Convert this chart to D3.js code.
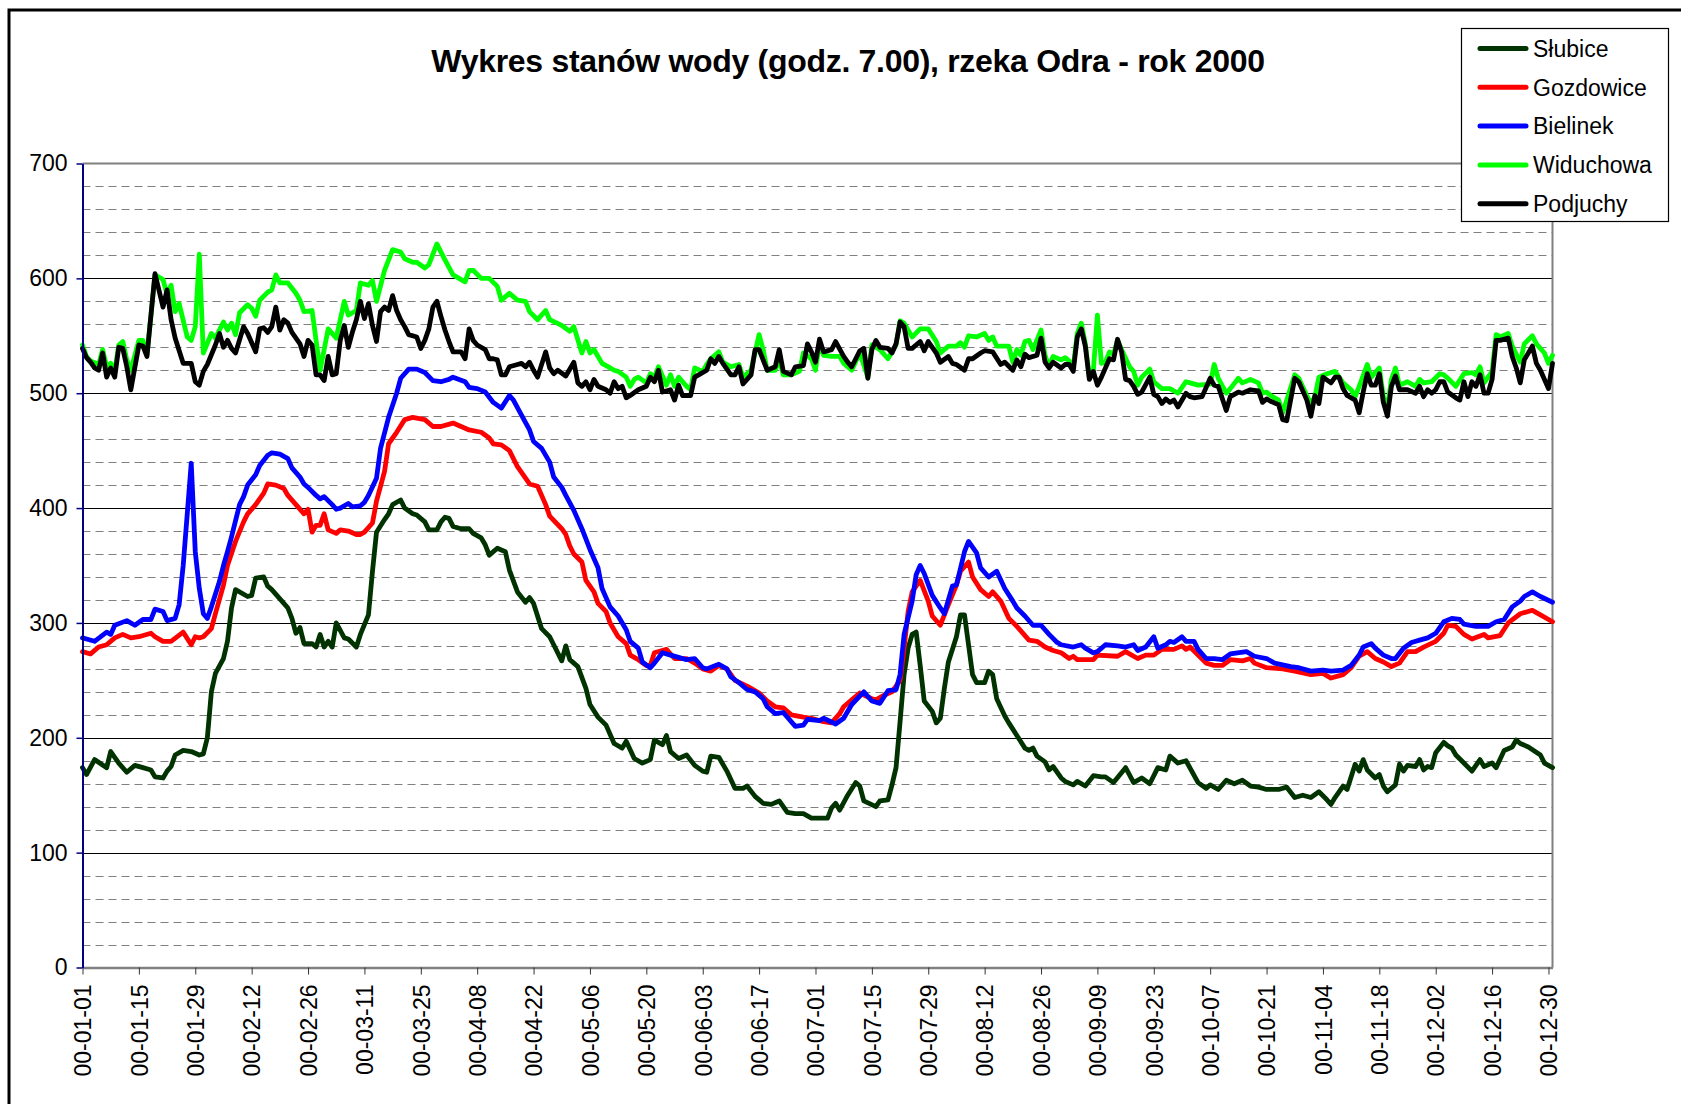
<!DOCTYPE html>
<html lang="pl">
<head>
<meta charset="UTF-8"/>
<title>Wykres stanów wody - Odra 2000</title>
<script src="https://d3js.org/d3.v7.min.js"></script>
<style>
    body { margin: 0; background: #fff; }
    svg { display: block; font-family: "Liberation Sans", Arial, sans-serif; }
</style>
</head>
<body>
<script>
    // Series: [day of year (0 = 00-01-01), water level in cm]
    var slubice = [[0,174],[1,168],[3,181],[6,174],[7,188],[9,178],[11,170],[13,176],[15,174],[17,172],[18,166],[20,165],[21,171],[22,175],[23,185],[25,189],[27,188],[29,185],[30,186],[31,200],[32,240],[33,256],[35,269],[36,284],[37,313],[38,329],[41,323],[42,324],[43,339],[45,340],[46,332],[47,329],[50,317],[51,313],[52,304],[53,291],[54,296],[55,282],[57,282],[58,279],[59,290],[60,279],[61,284],[62,279],[63,300],[65,287],[66,286],[68,279],[69,290],[71,307],[72,345],[73,379],[75,390],[76,395],[77,403],[79,407],[80,400],[82,395],[83,394],[85,388],[86,381],[88,381],[89,388],[90,392],[91,391],[92,384],[94,382],[96,382],[97,378],[99,374],[100,368],[101,359],[103,365],[105,362],[106,346],[108,327],[110,318],[111,322],[112,317],[114,295],[116,288],[117,281],[119,267],[120,280],[121,268],[123,262],[125,243],[126,229],[128,218],[130,211],[132,195],[134,191],[135,197],[137,182],[139,178],[141,181],[142,198],[144,194],[145,202],[146,188],[148,182],[150,185],[152,176],[154,171],[155,170],[156,184],[158,183],[160,171],[162,156],[164,156],[165,158],[167,149],[169,143],[171,142],[173,145],[175,135],[177,134],[179,134],[181,130],[185,130],[186,139],[187,143],[188,137],[190,150],[192,161],[193,158],[194,145],[197,140],[198,145],[200,146],[201,159],[202,174],[203,214],[204,255],[205,278],[206,290],[207,292],[208,263],[209,232],[211,223],[212,213],[213,217],[214,243],[215,266],[217,288],[218,307],[219,307],[220,281],[221,255],[222,248],[224,248],[225,258],[226,255],[227,234],[229,219],[230,213],[232,202],[234,191],[235,189],[236,191],[237,184],[239,179],[240,172],[241,175],[243,165],[244,162],[246,159],[247,162],[249,158],[251,167],[253,166],[254,166],[256,161],[259,174],[261,161],[263,165],[265,160],[267,174],[269,172],[270,184],[272,178],[274,180],[277,161],[279,156],[280,159],[282,155],[284,163],[286,160],[288,163],[290,158],[292,157],[294,155],[297,155],[299,157],[301,148],[303,150],[305,148],[307,153],[309,146],[310,142],[311,148],[313,158],[314,155],[316,177],[317,171],[318,181],[319,172],[321,165],[322,168],[323,158],[324,153],[326,159],[327,177],[328,171],[329,176],[331,175],[332,181],[333,172],[334,175],[335,174],[336,187],[338,196],[339,193],[340,191],[341,185],[343,178],[345,171],[347,181],[348,175],[350,178],[351,174],[353,189],[355,192],[356,198],[357,195],[359,192],[362,185],[363,178],[365,174]];

    var gozdowice = [[0,275],[2,273],[4,279],[6,281],[8,287],[10,290],[12,287],[14,288],[17,291],[18,288],[20,284],[22,284],[25,292],[27,281],[28,288],[29,287],[30,288],[32,295],[33,308],[35,333],[36,350],[38,371],[40,388],[41,395],[43,403],[45,413],[46,421],[48,420],[50,417],[51,411],[53,403],[55,395],[56,399],[57,379],[58,385],[59,385],[60,395],[61,381],[63,378],[64,381],[66,380],[68,377],[69,377],[70,379],[72,387],[73,406],[75,432],[76,456],[78,466],[80,477],[82,479],[85,477],[87,471],[89,471],[92,474],[94,471],[96,468],[99,466],[101,461],[102,456],[104,455],[106,450],[108,436],[110,426],[111,421],[113,419],[115,403],[116,393],[119,382],[120,377],[121,367],[122,360],[124,353],[125,337],[127,327],[128,317],[130,310],[131,300],[133,288],[135,282],[136,272],[138,268],[140,263],[141,263],[142,274],[145,277],[147,269],[150,269],[152,265],[154,260],[156,258],[158,263],[160,260],[162,250],[165,245],[166,243],[168,239],[170,232],[172,227],[174,226],[176,220],[179,218],[181,217],[184,214],[186,213],[188,221],[189,227],[191,233],[193,239],[196,234],[197,233],[199,237],[201,240],[203,250],[204,278],[205,310],[206,327],[208,337],[210,319],[211,306],[213,298],[215,316],[217,333],[218,345],[220,353],[221,340],[223,329],[225,323],[226,327],[228,319],[230,304],[232,297],[235,285],[237,284],[239,279],[241,276],[243,274],[245,269],[246,271],[247,268],[251,268],[252,272],[257,271],[259,275],[262,269],[264,272],[266,272],[268,277],[271,277],[273,280],[274,277],[275,279],[277,272],[279,265],[281,263],[283,263],[285,268],[288,267],[290,269],[291,265],[294,261],[298,260],[301,258],[305,255],[308,256],[310,252],[313,255],[315,261],[317,271],[319,275],[321,269],[323,266],[325,262],[327,265],[329,275],[331,275],[333,279],[336,284],[338,291],[339,298],[341,297],[343,290],[345,286],[348,290],[349,287],[352,289],[354,300],[357,308],[360,311],[362,307],[365,301]];

    var bielinek = [[0,287],[1,286],[3,284],[6,292],[7,290],[8,298],[11,302],[13,298],[15,303],[17,303],[18,312],[20,310],[21,302],[23,304],[24,316],[25,350],[27,439],[28,362],[29,330],[30,308],[31,304],[32,314],[34,336],[35,350],[36,362],[37,375],[39,403],[40,410],[41,420],[43,429],[44,437],[46,446],[47,448],[49,447],[51,443],[52,435],[54,427],[55,421],[56,418],[58,411],[59,408],[60,410],[62,403],[63,399],[64,400],[66,404],[67,401],[69,402],[70,405],[71,411],[73,426],[74,452],[76,479],[78,500],[79,513],[81,521],[83,521],[85,518],[87,511],[89,510],[91,512],[92,514],[95,510],[96,505],[98,504],[100,501],[102,492],[104,487],[106,498],[107,494],[109,481],[111,468],[112,458],[114,452],[116,440],[117,427],[119,418],[120,411],[122,398],[124,382],[126,364],[128,348],[129,330],[131,314],[133,306],[135,294],[136,284],[138,278],[139,266],[141,261],[142,265],[144,274],[146,272],[148,270],[150,268],[152,269],[154,261],[155,260],[158,264],[160,260],[161,253],[163,248],[165,242],[167,240],[169,234],[170,227],[172,221],[174,222],[177,210],[179,211],[180,216],[183,215],[184,217],[187,212],[189,217],[191,229],[194,240],[196,232],[198,230],[200,241],[202,242],[203,255],[204,290],[206,319],[207,342],[208,350],[209,343],[211,324],[213,313],[214,308],[216,332],[217,333],[219,362],[220,371],[222,361],[223,348],[225,340],[227,345],[229,330],[231,319],[232,313],[234,306],[236,298],[238,298],[240,290],[242,283],[243,281],[246,279],[248,281],[249,278],[251,274],[252,275],[254,281],[257,280],[259,279],[261,281],[262,276],[264,279],[266,288],[267,278],[269,281],[270,284],[271,283],[273,288],[274,284],[276,284],[277,277],[279,269],[281,269],[283,268],[285,273],[289,275],[291,271],[294,269],[296,265],[300,262],[302,261],[305,258],[308,259],[310,258],[313,259],[315,263],[317,272],[318,279],[320,282],[321,278],[323,272],[325,269],[326,269],[328,278],[330,283],[332,285],[334,287],[336,291],[338,301],[340,304],[342,303],[343,299],[346,297],[349,297],[351,301],[353,303],[355,314],[357,319],[358,323],[360,327],[362,323],[365,318]];

    var widuchowa = [[0,542],[1,532],[2,528],[4,525],[5,538],[6,523],[7,526],[8,519],[9,542],[10,545],[11,529],[12,520],[14,546],[15,546],[16,533],[18,603],[20,599],[21,586],[22,594],[23,571],[24,578],[26,549],[27,546],[28,558],[29,621],[30,535],[32,552],[33,548],[35,562],[36,555],[37,561],[38,551],[39,570],[41,577],[42,574],[43,567],[44,581],[46,588],[47,590],[48,603],[49,596],[51,596],[53,587],[54,581],[55,571],[57,572],[59,520],[61,556],[63,548],[65,580],[66,568],[68,572],[69,596],[71,594],[72,598],[73,580],[75,607],[77,625],[79,623],[80,617],[82,614],[83,614],[85,609],[86,612],[88,630],[90,616],[92,603],[95,597],[96,607],[97,607],[99,600],[101,600],[103,593],[104,581],[106,587],[108,581],[110,580],[111,571],[113,564],[115,572],[116,564],[119,559],[121,554],[122,558],[124,535],[125,545],[126,535],[127,538],[129,526],[131,522],[132,520],[133,519],[135,514],[136,506],[137,512],[138,514],[140,509],[141,517],[142,514],[143,523],[145,507],[146,516],[147,506],[148,514],[150,506],[151,503],[152,522],[154,519],[155,525],[156,530],[158,536],[159,527],[161,523],[163,525],[164,514],[166,520],[168,551],[169,538],[170,520],[172,520],[173,530],[174,516],[176,516],[178,519],[179,535],[181,530],[182,520],[183,544],[184,533],[186,532],[188,532],[189,526],[191,520],[193,535],[195,514],[196,542],[198,538],[200,530],[202,542],[203,563],[204,561],[206,549],[208,556],[210,556],[212,545],[213,535],[215,541],[217,541],[218,544],[219,540],[220,550],[222,549],[224,552],[225,546],[226,549],[227,541],[230,541],[231,527],[232,538],[233,533],[234,545],[235,546],[236,538],[238,555],[239,533],[240,523],[241,532],[243,529],[244,531],[245,528],[246,523],[247,552],[248,561],[249,543],[250,514],[251,520],[252,568],[253,526],[254,527],[255,536],[256,534],[257,546],[258,538],[260,523],[261,519],[262,507],[263,514],[265,521],[266,510],[268,504],[270,504],[272,500],[274,510],[275,509],[277,507],[280,508],[281,525],[282,513],[284,500],[285,504],[287,513],[288,509],[290,512],[292,509],[293,500],[294,501],[295,498],[297,494],[298,483],[299,494],[301,516],[302,513],[304,498],[305,491],[306,497],[307,514],[309,517],[311,519],[313,509],[315,503],[316,497],[317,506],[319,525],[320,514],[322,522],[323,497],[324,487],[325,512],[326,522],[327,507],[329,510],[331,506],[332,512],[333,509],[335,510],[337,517],[338,516],[339,513],[341,506],[343,517],[345,518],[346,516],[347,523],[348,509],[350,519],[351,551],[352,549],[354,552],[355,541],[357,527],[358,543],[360,550],[361,543],[363,535],[364,526],[365,533]];

    var podjuchy = [[0,539],[1,531],[2,527],[3,522],[4,520],[5,535],[6,514],[7,522],[8,514],[9,540],[10,539],[11,523],[12,503],[14,542],[15,541],[16,532],[18,604],[20,575],[21,590],[22,564],[23,548],[25,526],[27,526],[28,510],[29,507],[30,519],[31,525],[33,542],[34,552],[35,540],[36,546],[37,539],[38,535],[40,558],[41,552],[43,536],[44,556],[45,557],[46,553],[47,558],[48,575],[49,555],[50,564],[51,561],[52,553],[54,543],[55,532],[56,546],[57,542],[58,516],[59,516],[60,511],[61,532],[62,516],[63,517],[64,546],[65,559],[66,540],[67,553],[68,564],[69,580],[70,565],[71,578],[72,559],[73,545],[74,571],[75,575],[76,572],[77,585],[78,572],[79,564],[80,558],[81,551],[83,549],[84,539],[85,546],[86,556],[87,575],[88,580],[89,567],[90,555],[91,545],[92,536],[94,536],[95,530],[96,556],[97,546],[98,542],[100,538],[101,530],[102,530],[103,529],[104,516],[105,516],[106,523],[108,525],[109,526],[110,523],[111,527],[112,520],[113,514],[115,536],[116,522],[117,517],[118,520],[120,515],[122,527],[123,509],[124,506],[125,510],[126,503],[127,512],[128,506],[130,503],[131,500],[132,510],[133,504],[134,506],[135,496],[136,498],[138,503],[140,506],[141,514],[142,510],[143,520],[144,501],[146,503],[147,494],[148,507],[149,498],[151,498],[152,514],[153,516],[155,520],[156,530],[157,526],[158,532],[159,526],[161,516],[162,516],[163,523],[164,508],[166,516],[167,538],[168,538],[170,520],[172,523],[173,538],[174,519],[176,516],[177,523],[179,524],[180,543],[181,536],[182,527],[183,547],[184,536],[186,538],[187,545],[189,532],[190,527],[191,523],[193,537],[194,539],[195,513],[196,538],[197,546],[198,540],[200,539],[201,535],[202,543],[203,562],[204,558],[205,539],[206,539],[208,545],[209,537],[210,545],[212,535],[213,527],[215,532],[216,526],[217,525],[219,520],[220,530],[221,530],[223,535],[224,537],[226,536],[228,525],[229,527],[231,520],[232,529],[233,523],[234,534],[235,531],[237,533],[238,548],[239,527],[240,522],[241,527],[243,522],[244,525],[245,525],[246,519],[247,549],[248,556],[249,541],[250,512],[251,519],[252,507],[253,514],[255,530],[256,529],[257,547],[258,536],[259,512],[260,511],[261,506],[262,499],[263,501],[265,514],[266,499],[267,497],[268,491],[269,495],[270,492],[271,494],[272,488],[274,500],[275,497],[276,496],[278,497],[280,513],[281,507],[282,506],[284,485],[285,497],[287,501],[288,500],[290,503],[292,502],[293,492],[294,495],[295,493],[297,490],[298,477],[299,476],[301,513],[302,510],[304,494],[305,480],[306,498],[307,491],[308,514],[310,509],[311,514],[312,514],[313,504],[314,498],[316,494],[317,483],[318,501],[319,517],[320,507],[321,507],[322,517],[323,492],[324,480],[325,506],[326,515],[327,503],[329,503],[331,500],[332,506],[333,497],[334,503],[335,500],[336,503],[337,510],[338,510],[339,501],[341,496],[342,494],[343,510],[344,497],[345,510],[346,506],[347,516],[348,500],[349,500],[350,512],[351,546],[352,546],[354,548],[355,532],[356,522],[357,509],[358,529],[360,541],[361,526],[362,520],[364,504],[365,526]];

    var seriesNames = ["Słubice", "Gozdowice", "Bielinek", "Widuchowa", "Podjuchy"];
    var seriesColors = ["#003300", "#ff0000", "#0000ff", "#00ff00", "#000000"];
    var seriesData = [slubice, gozdowice, bielinek, widuchowa, podjuchy];

    var tickLabels = ["00-01-01", "00-01-15", "00-01-29", "00-02-12", "00-02-26", "00-03-11",
                      "00-03-25", "00-04-08", "00-04-22", "00-05-06", "00-05-20", "00-06-03",
                      "00-06-17", "00-07-01", "00-07-15", "00-07-29", "00-08-12", "00-08-26",
                      "00-09-09", "00-09-23", "00-10-07", "00-10-21", "00-11-04", "00-11-18",
                      "00-12-02", "00-12-16", "00-12-30"];
    var yTicks = [0, 100, 200, 300, 400, 500, 600, 700];

    var title = "Wykres stanów wody (godz. 7.00), rzeka Odra - rok 2000";

    // Canvas and plot area
    var W = 1681, H = 1104;
    var plot = { left: 82.5, right: 1552.5, top: 163.5, bottom: 967.5 };

    var parseDay = d3.timeParse("%y-%m-%d");
    var start = new Date(2000, 0, 1);
    var end = new Date(2000, 11, 31);
    function dayDate(d) { return d3.timeDay.offset(start, d); }

    var xScale = d3.scaleTime()
                   .domain([start, end])
                   .range([plot.left, plot.right]);

    var yScale = d3.scaleLinear()
                   .domain([0, 700])
                   .range([plot.bottom, plot.top]);

    var svg = d3.select("body")
                .append("svg")
                .attr("width", W)
                .attr("height", H);

    svg.append("rect")
       .attr("width", W).attr("height", H)
       .attr("fill", "#fff");

    // Outer chart frame (runs off the picture right and bottom)
    svg.append("rect")
       .attr("x", 9).attr("y", 10)
       .attr("width", W + 20).attr("height", H + 20)
       .attr("fill", "none")
       .attr("stroke", "#000")
       .attr("stroke-width", 3);

    // Title
    svg.append("text")
       .attr("x", 848)
       .attr("y", 72)
       .attr("text-anchor", "middle")
       .attr("font-size", 32)
       .attr("font-weight", "bold")
       .attr("letter-spacing", -0.3)
       .text(title);

    // Minor dashed gridlines every 20
    var minor = d3.range(20, 700, 20).filter(function(v) { return v % 100 !== 0; });
    svg.append("g")
       .selectAll("line")
       .data(minor)
       .enter()
       .append("line")
       .attr("x1", plot.left).attr("x2", plot.right)
       .attr("y1", function(d) { return Math.round(yScale(d)) + 0.5; })
       .attr("y2", function(d) { return Math.round(yScale(d)) + 0.5; })
       .attr("stroke", "#808080")
       .attr("stroke-width", 1)
       .attr("stroke-dasharray", "8,5");

    // Major gridlines every 100
    svg.append("g")
       .selectAll("line")
       .data(yTicks.filter(function(v) { return v > 0 && v < 700; }))
       .enter()
       .append("line")
       .attr("x1", plot.left).attr("x2", plot.right)
       .attr("y1", function(d) { return Math.round(yScale(d)) + 0.5; })
       .attr("y2", function(d) { return Math.round(yScale(d)) + 0.5; })
       .attr("stroke", "#000")
       .attr("stroke-width", 1);

    // Plot area border (top and right)
    svg.append("path")
       .attr("d", "M" + plot.left + "," + plot.top + "H" + plot.right + "V" + plot.bottom)
       .attr("fill", "none")
       .attr("stroke", "#808080")
       .attr("stroke-width", 2);

    // Series lines
    var line = d3.line()
                 .x(function(d) { return xScale(dayDate(d[0])); })
                 .y(function(d) { return yScale(d[1]); });

    svg.append("g")
       .selectAll("path")
       .data(seriesData)
       .enter()
       .append("path")
       .attr("d", line)
       .attr("fill", "none")
       .attr("stroke", function(d, i) { return seriesColors[i]; })
       .attr("stroke-width", 4.8)
       .attr("stroke-linejoin", "round")
       .attr("stroke-linecap", "round");

    // X axis
    var xAxis = d3.axisBottom(xScale)
                  .tickValues(tickLabels.map(parseDay))
                  .tickFormat(d3.timeFormat("%y-%m-%d"))
                  .tickSize(7)
                  .tickSizeOuter(0);

    var gx = svg.append("g")
                .attr("class", "x-axis")
                .attr("transform", "translate(0," + plot.bottom + ")")
                .call(xAxis);
    gx.select(".domain").attr("stroke", "#808080").attr("stroke-width", 2.5);
    gx.selectAll(".tick line").attr("stroke", "#333").attr("stroke-width", 1);
    gx.selectAll(".tick text")
      .attr("font-size", 23)
      .attr("font-family", "Liberation Sans, Arial, sans-serif")
      .attr("fill", "#000")
      .attr("text-anchor", "end")
      .attr("transform", "rotate(-90)")
      .attr("x", -17)
      .attr("y", 0)
      .attr("dy", "0.36em");

    // Y axis
    var yAxis = d3.axisLeft(yScale)
                  .tickValues(yTicks)
                  .tickSize(6)
                  .tickPadding(9)
                  .tickSizeOuter(0);

    var gy = svg.append("g")
                .attr("class", "y-axis")
                .attr("transform", "translate(" + plot.left + ",0)")
                .call(yAxis);
    gy.select(".domain").attr("stroke", "#000080").attr("stroke-width", 2);
    gy.selectAll(".tick line").attr("stroke", "#000080").attr("stroke-width", 1.5);
    gy.selectAll(".tick text")
      .attr("font-size", 23)
      .attr("font-family", "Liberation Sans, Arial, sans-serif")
      .attr("fill", "#000");

    // Legend
    var legend = svg.append("g");
    legend.append("rect")
          .attr("x", 1461.5).attr("y", 28.5)
          .attr("width", 207).attr("height", 193)
          .attr("fill", "#fff")
          .attr("stroke", "#000")
          .attr("stroke-width", 1.2);

    var items = legend.selectAll("g.item")
                      .data(seriesNames)
                      .enter()
                      .append("g")
                      .attr("class", "item")
                      .attr("transform", function(d, i) { return "translate(0," + (48.5 + i * 38.8) + ")"; });

    items.append("line")
         .attr("x1", 1480).attr("x2", 1526)
         .attr("stroke", function(d, i) { return seriesColors[i]; })
         .attr("stroke-width", 5)
         .attr("stroke-linecap", "round");

    items.append("text")
         .attr("x", 1533)
         .attr("dy", "0.36em")
         .attr("font-size", 23)
         .text(function(d) { return d; });
</script>
</body>
</html>
